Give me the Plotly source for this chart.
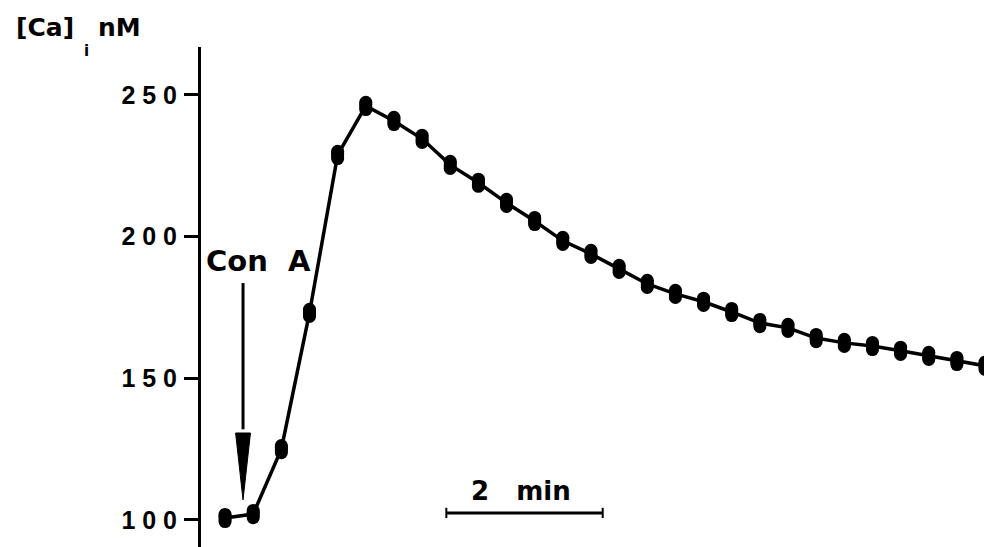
import plotly.graph_objects as go

# ---- data ----
TIME_MIN = [0.00, 0.36, 0.72, 1.08, 1.44, 1.80, 2.16, 2.52, 2.88, 3.24,
            3.60, 3.96, 4.32, 4.68, 5.04, 5.40, 5.76, 6.12, 6.48, 6.84,
            7.20, 7.56, 7.92, 8.28, 8.64, 9.00, 9.36, 9.72]
CA_NM = [100.7, 102.1, 125.0, 173.1, 228.8, 246.1, 240.8, 234.5, 225.3, 219.0,
         211.9, 205.5, 198.5, 193.9, 188.6, 183.3, 179.8, 177.0, 173.4, 169.5,
         167.8, 164.2, 162.5, 161.4, 159.7, 157.9, 156.1, 154.4]
Y_TICKS = [100, 150, 200, 250]
SEP = "\u00a0"
Y_TICK_TEXT = [SEP.join("100"), SEP.join("150"), SEP.join("200"), SEP.join("250")]
CON_A_TIME = 0.23          # time of Con A addition (min)
SCALE_BAR_START = 2.83     # start of the 2 min scale bar (min)
SCALE_BAR_LEN = 2.0        # min

# page body has an 8px margin; the figure is sized to fill the rest of the window
OFF = 8
W, H = 992 - OFF, 547 - OFF
FONT_TXT = "DejaVu Sans, Verdana, sans-serif"
FONT_NUM = "Liberation Sans, Arial, sans-serif"
X_RANGE = [-2.776, 9.809]
Y_RANGE = [90.47, 266.9]
Y_DOMAIN = [0, 500 / H]
PX_PER_NM = 500 / (Y_RANGE[1] - Y_RANGE[0])
MARKER_OFFSETS_PX = [0, 1.8, -1.8, 3.6, -3.6]


def shifted(dpx):
    d = dpx / PX_PER_NM
    return [Y_RANGE[0] - d, Y_RANGE[1] - d]


fig = go.Figure()

fig.add_trace(go.Scatter(
    x=TIME_MIN, y=CA_NM, mode="lines",
    line=dict(color="black", width=3.5), hoverinfo="skip", showlegend=False))
# elliptical markers: stacked circles shifted a few pixels vertically
axis_names = ["y"] + [f"y{i}" for i in range(2, len(MARKER_OFFSETS_PX) + 1)]
for ax in axis_names:
    fig.add_trace(go.Scatter(
        x=TIME_MIN, y=CA_NM, mode="markers", yaxis=ax,
        marker=dict(symbol="circle", size=13, color="black", line=dict(width=0)),
        hoverinfo="skip", showlegend=False))

# Con A arrow (shaft + long narrow head)
fig.add_shape(type="line", xref="x", yref="y",
              x0=CON_A_TIME, x1=CON_A_TIME, y0=183.6, y1=132,
              line=dict(color="black", width=3))
fig.add_shape(type="path", xref="x", yref="y",
              path=f"M {CON_A_TIME-0.095},{130.7} L {CON_A_TIME+0.095},{130.7} L {CON_A_TIME},{107.1} Z",
              fillcolor="black", line=dict(color="black", width=1))

# scale bar
yb = 102.5
fig.add_shape(type="line", xref="x", yref="y",
              x0=SCALE_BAR_START, x1=SCALE_BAR_START + SCALE_BAR_LEN, y0=yb, y1=yb,
              line=dict(color="black", width=3))
for xe in (SCALE_BAR_START, SCALE_BAR_START + SCALE_BAR_LEN):
    fig.add_shape(type="line", xref="x", yref="y",
                  x0=xe, x1=xe, y0=yb - 1.8, y1=yb + 1.8,
                  line=dict(color="black", width=2))


def ann(text, px, py, size=24, xanchor="left", family=FONT_TXT):
    # px, py given in window pixels
    fig.add_annotation(text=text, x=(px - OFF) / W, y=1 - (py - OFF) / H,
                       xref="paper", yref="paper",
                       xanchor=xanchor, yanchor="middle", showarrow=False,
                       font=dict(family=family, size=size, color="black"))


ann("<b>[Ca]</b>", 14, 28, size=25)
ann("<b>i</b>", 82, 51, size=15)
ann("<b>nM</b>", 96, 28, size=25)
ann("<b>Con\u00a0\u00a0A</b>", 204, 261, size=29)
ann("<b>2\u00a0\u00a0\u00a0min</b>", 521, 491, size=26, xanchor="center")

hidden = dict(overlaying="y", domain=Y_DOMAIN, visible=False, fixedrange=True)
layout_axes = {}
for i, dpx in enumerate(MARKER_OFFSETS_PX[1:], start=2):
    layout_axes[f"yaxis{i}"] = dict(range=shifted(dpx), **hidden)

fig.update_layout(
    width=W, height=H,
    margin=dict(l=0, r=0, t=0, b=0),
    paper_bgcolor="white", plot_bgcolor="white",
    showlegend=False,
    xaxis=dict(range=X_RANGE, domain=[0, 1], visible=False, fixedrange=True),
    yaxis=dict(range=Y_RANGE, domain=Y_DOMAIN, anchor="free", position=(199 - OFF) / W,
               showline=True, linecolor="black", linewidth=3,
               ticks="outside", ticklen=14, tickwidth=3, tickcolor="black",
               tickvals=Y_TICKS, ticktext=[f"<b>{t}</b>" for t in Y_TICK_TEXT],
               tickfont=dict(family=FONT_NUM, size=25, color="black"),
               ticklabelstandoff=2,
               showgrid=False, zeroline=False, fixedrange=True),
    **layout_axes,
)

fig.write_html("out.html")
